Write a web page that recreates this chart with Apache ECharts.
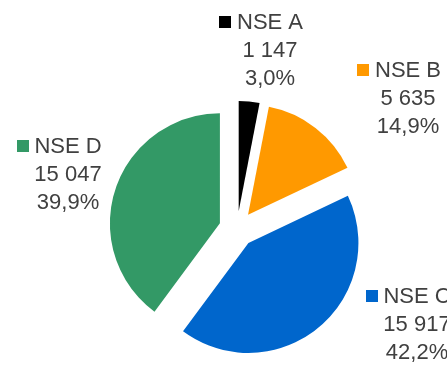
<!DOCTYPE html>
<html>
<head>
<meta charset="utf-8">
<style>
  html, body { margin: 0; padding: 0; background: #ffffff; }
  #chart { width: 447px; height: 368px; }
</style>
<script src="https://cdn.jsdelivr.net/npm/echarts@6/dist/echarts.min.js"></script>
</head>
<body>
<div id="chart"></div>
<script>
// Socio-economic level (NSE) groups and their counts
var categories = ['NSE A', 'NSE B', 'NSE C', 'NSE D'];
var counts = [1147, 5635, 15917, 15047];
var sliceColors = ['#000000', '#FF9900', '#0066CC', '#339966'];

// Centre of each data label block (text lines, px)
var labelAnchors = [[270, 51], [408, 99], [417, 325], [68, 175]];

var total = counts.reduce(function (a, b) { return a + b; }, 0);

function groupThousands(v) {
  return String(v).replace(/\B(?=(\d{3})+(?!\d))/g, ' ');
}
function percentText(v) {
  return (v / total * 100).toFixed(1).replace('.', ',') + '%';
}

var textColor = '#404040';
var font = 'Liberation Sans, Arial, sans-serif';

var pieData = categories.map(function (name, i) {
  return {
    name: name,
    value: counts[i],
    selected: true,
    itemStyle: { color: sliceColors[i] },
    select: { itemStyle: { color: sliceColors[i], borderWidth: 0 } }
  };
});

// Data labels: legend key square, category, count and share
var labelGraphics = [];
categories.forEach(function (name, i) {
  var p = labelAnchors[i];
  labelGraphics.push({
    type: 'text',
    x: p[0],
    y: p[1],
    silent: true,
    style: {
      text: categories[i] + '\n' + groupThousands(counts[i]) + '\n' + percentText(counts[i]),
      fontSize: 22,
      fontFamily: font,
      fill: textColor,
      lineHeight: 28,
      align: 'center',
      verticalAlign: 'middle'
    }
  });
  labelGraphics.push({
    type: 'rect',
    silent: true,
    shape: { x: p[0] - 33 - 6 - 12, y: p[1] - 42 + 7, width: 12, height: 12 },
    style: { fill: sliceColors[i] }
  });
});

var chart = echarts.init(document.getElementById('chart'), null, { renderer: 'canvas' });
chart.setOption({
  animation: false,
  backgroundColor: '#ffffff',
  graphic: { elements: labelGraphics },
  series: [{
    type: 'pie',
    center: [237, 229],
    radius: 110,
    startAngle: 90,
    clockwise: true,
    selectedMode: 'multiple',
    selectedOffset: 18,
    emphasis: { disabled: true },
    itemStyle: { borderWidth: 0 },
    label: { show: false },
    labelLine: { show: false },
    data: pieData
  }]
});
</script>
</body>
</html>
